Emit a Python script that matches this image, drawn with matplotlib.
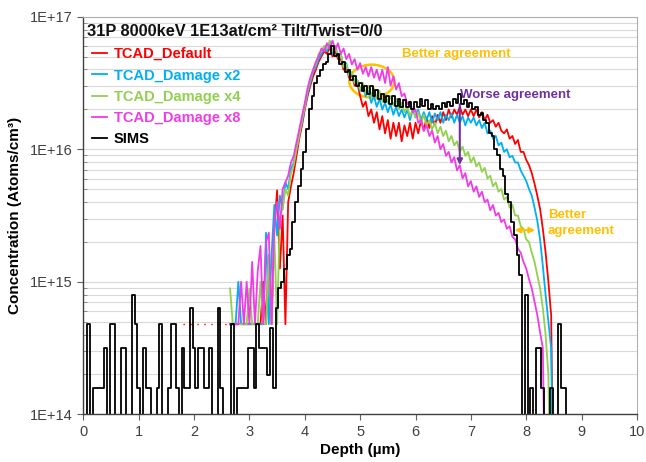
import numpy as np
import matplotlib
matplotlib.use('Agg')
import matplotlib.pyplot as plt
from matplotlib.patches import Ellipse
from matplotlib.ticker import FixedLocator, FuncFormatter, LogLocator, NullFormatter

plt.rcParams['font.family'] = ['Liberation Sans', 'DejaVu Sans']

# ---- data (log10 of concentration, atoms/cm3) ----
F = 14.68          # TCAD floor level
Z = 13.0           # zero counts (below axis)
L1, L2, L3, L4, L5 = 14.2, 14.5, 14.68, 14.8, 14.9   # SIMS count levels

depth_tcad = np.round(2.65 + 0.05 * np.arange(118), 2)   # 2.65 ... 8.50 um

log_default = [
    F, F, F, F, F, F, F, F, F, F,
    F, F, 15.0, F, 15.2, F, 15.4, 15.69, 15.1, 15.5,
    F, 15.6, 15.72, 15.82, 15.95, 16.08, 16.18, 16.3, 16.4, 16.48,
    16.55, 16.6, 16.66, 16.7, 16.74, 16.72, 16.77, 16.7, 16.74, 16.68,
    16.68, 16.6, 16.62, 16.54, 16.56, 16.48, 16.5, 16.4, 16.32, 16.36,
    16.25, 16.3, 16.2, 16.28, 16.15, 16.25, 16.12, 16.22, 16.08, 16.2,
    16.1, 16.2, 16.06, 16.18, 16.1, 16.2, 16.08, 16.2, 16.12, 16.22,
    16.14, 16.24, 16.16, 16.25, 16.18, 16.26, 16.2, 16.28, 16.22, 16.3,
    16.24, 16.3, 16.26, 16.32, 16.26, 16.3, 16.25, 16.3, 16.25, 16.3,
    16.24, 16.28, 16.22, 16.26, 16.2, 16.22, 16.17, 16.2, 16.14, 16.12,
    16.15, 16.08, 16.1, 16.04, 16.07, 15.98, 15.98, 15.92, 15.88, 15.82,
    15.74, 15.65, 15.55, 15.4, 15.22, 15.0, 14.75, Z,
]
log_damage_x2 = [
    F, F, F, 15.0, F, F, F, F, F, F,
    F, F, F, 15.37, F, 15.2, 15.58, 15.35, 15.65, 15.55,
    15.75, 15.7, 15.85, 15.9, 16.0, 16.12, 16.2, 16.32, 16.42, 16.5,
    16.58, 16.62, 16.68, 16.72, 16.76, 16.74, 16.8, 16.72, 16.78, 16.7,
    16.72, 16.62, 16.65, 16.56, 16.58, 16.5, 16.52, 16.44, 16.47, 16.4,
    16.44, 16.35, 16.4, 16.32, 16.38, 16.3, 16.35, 16.28, 16.34, 16.26,
    16.32, 16.25, 16.3, 16.24, 16.3, 16.22, 16.3, 16.24, 16.3, 16.22,
    16.28, 16.22, 16.28, 16.2, 16.27, 16.22, 16.28, 16.2, 16.26, 16.22,
    16.27, 16.2, 16.26, 16.2, 16.25, 16.18, 16.24, 16.2, 16.24, 16.18,
    16.22, 16.16, 16.2, 16.12, 16.14, 16.08, 16.1, 16.03, 16.05, 15.98,
    16.0, 15.94, 15.95, 15.9, 15.9, 15.84, 15.8, 15.76, 15.7, 15.65,
    15.56, 15.46, 15.32, 15.12, 14.9, 14.7, 14.5, Z,
]
log_damage_x4 = [
    14.95, F, F, F, F, F, F, 14.95, F, F,
    F, 15.0, F, F, 15.2, F, 15.35, F, 15.5, 15.55,
    15.7, 15.65, 15.82, 15.88, 16.0, 16.1, 16.22, 16.32, 16.44, 16.52,
    16.6, 16.64, 16.72, 16.74, 16.78, 16.76, 16.82, 16.74, 16.78, 16.7,
    16.72, 16.62, 16.64, 16.56, 16.58, 16.5, 16.52, 16.45, 16.5, 16.42,
    16.48, 16.4, 16.46, 16.38, 16.44, 16.36, 16.42, 16.35, 16.4, 16.33,
    16.38, 16.3, 16.35, 16.28, 16.32, 16.25, 16.3, 16.24, 16.28, 16.2,
    16.26, 16.18, 16.22, 16.15, 16.2, 16.12, 16.17, 16.1, 16.14, 16.06,
    16.1, 16.03, 16.06, 15.98, 16.02, 15.95, 15.98, 15.9, 15.94, 15.87,
    15.9, 15.83, 15.86, 15.78, 15.8, 15.72, 15.75, 15.68, 15.7, 15.62,
    15.64, 15.56, 15.58, 15.5, 15.5, 15.42, 15.4, 15.32, 15.3, 15.22,
    15.15, 15.05, 14.95, 14.8, 14.6, 14.3, Z, Z,
]
log_damage_x8 = [
    F, F, F, F, 15.0, F, 15.0, F, 15.15, F,
    15.08, 15.27, F, 15.3, 15.37, F, 15.45, 15.6, 15.4, 15.7,
    15.75, 15.8, 15.9, 15.95, 16.05, 16.15, 16.25, 16.35, 16.46, 16.54,
    16.6, 16.66, 16.7, 16.76, 16.74, 16.8, 16.76, 16.82, 16.75, 16.8,
    16.72, 16.76, 16.68, 16.72, 16.64, 16.68, 16.6, 16.65, 16.57, 16.62,
    16.55, 16.62, 16.54, 16.6, 16.52, 16.6, 16.5, 16.62, 16.48, 16.55,
    16.45, 16.5, 16.4, 16.42, 16.34, 16.36, 16.28, 16.3, 16.2, 16.22,
    16.14, 16.18, 16.1, 16.14, 16.05, 16.1, 16.0, 16.04, 15.95, 15.98,
    15.9, 15.94, 15.84, 15.88, 15.78, 15.82, 15.72, 15.76, 15.68, 15.72,
    15.64, 15.68, 15.6, 15.62, 15.54, 15.58, 15.5, 15.52, 15.45, 15.47,
    15.4, 15.42, 15.34, 15.32, 15.25, 15.22, 15.15, 15.1, 15.02, 14.95,
    14.85, 14.75, 14.62, 14.5, Z, Z, Z, Z,
]

red_floor_depth = [1.80, 2.65]
red_floor_log = [F, F]

depth_sims = np.round(0.05 * np.arange(176), 2)   # 0.00 ... 8.75 um
log_sims = [
    Z, Z, L3, Z, L1, L1, L1, L1, L2, Z,
    L3, L3, Z, Z, L2, L2, Z, Z, L5, L3,
    L1, Z, L2, L1, L1, Z, Z, L1, L3, Z,
    Z, L1, L3, L3, L1, Z, L2, L1, L1, L4,
    L2, L1, L2, L2, L1, L1, L2, Z, Z, L4,
    L1, Z, Z, Z, L3, Z, L1, L1, L1, L1,
    L2, L2, L1, L3, L2, L2, 14.5, 14.3, 14.65, 14.2,
    14.8, 14.95, 15.0, 15.1, 15.2, 15.25, 15.45, 15.6, 15.72, 15.85,
    15.98, 16.15, 16.3, 16.4, 16.5, 16.55, 16.6, 16.64, 16.66, 16.72,
    16.78, 16.7, 16.72, 16.64, 16.66, 16.58, 16.6, 16.52, 16.55, 16.48,
    16.5, 16.44, 16.48, 16.42, 16.48, 16.4, 16.45, 16.38, 16.42, 16.36,
    16.4, 16.34, 16.4, 16.33, 16.38, 16.32, 16.37, 16.32, 16.36, 16.3,
    16.36, 16.32, 16.38, 16.33, 16.37, 16.3, 16.34, 16.3, 16.33, 16.3,
    16.35, 16.32, 16.36, 16.33, 16.38, 16.35, 16.42, 16.34, 16.37, 16.32,
    16.35, 16.3, 16.32, 16.26, 16.27, 16.22, 16.2, 16.12, 16.1, 16.0,
    15.96, 15.85, 15.8, 15.66, 15.6, 15.45, 15.35, 15.2, 15.05, Z,
    14.9, Z, L1, Z, L2, L2, L1, Z, Z, L1,
    Z, Z, L3, L1, L1, Z,
]

series_names = ['TCAD_Default', 'TCAD_Damage x2', 'TCAD_Damage x4', 'TCAD_Damage x8', 'SIMS']
series_colors = ['#FF0000', '#00B0F0', '#92D050', '#F03CE6', '#000000']

x_ticks = list(range(0, 11))
y_tick_exponents = [14, 15, 16, 17]

# ---- figure ----
fig = plt.figure(figsize=(6.46, 4.62), dpi=100)
ax = fig.add_axes([0.129, 0.1032, 0.857, 0.8606])

tcad_sets = [log_default, log_damage_x2, log_damage_x4, log_damage_x8]
for name, col, vals in zip(series_names[:4], series_colors[:4], tcad_sets):
    ax.plot(depth_tcad, 10 ** np.array(vals), color=col, lw=1.3, label=name)
ax.plot(red_floor_depth, 10 ** np.array(red_floor_log), color='#FF0000', lw=1.0,
        linestyle=(0, (1, 4)))
ax.plot(depth_sims, 10 ** np.array(log_sims), color=series_colors[4], lw=1.3,
        drawstyle='steps-mid', label=series_names[4])

ax.set_yscale('log')
ax.set_xlim(0, 10)
ax.set_ylim(1e14, 1e17)

ax.xaxis.set_major_locator(FixedLocator(x_ticks))
ax.yaxis.set_major_locator(FixedLocator([10.0 ** e for e in y_tick_exponents]))
ax.yaxis.set_major_formatter(FuncFormatter(lambda v, p: '1E+%d' % round(np.log10(v))))
ax.yaxis.set_minor_locator(LogLocator(base=10, subs=np.arange(2, 10), numticks=20))
ax.yaxis.set_minor_formatter(NullFormatter())

ax.tick_params(axis='both', which='major', direction='out', length=4, width=0.8,
               labelsize=10.5, labelcolor='#404040', color='#606060')
ax.tick_params(axis='y', which='minor', direction='in', length=3, width=0.6, color='#808080')

ax.yaxis.grid(True, which='both', color='#d9d9d9', lw=0.8)
ax.set_axisbelow(True)

for s in ['left', 'bottom']:
    ax.spines[s].set_color('#404040')
    ax.spines[s].set_linewidth(1.0)
for s in ['top', 'right']:
    ax.spines[s].set_color('#b0b0b0')
    ax.spines[s].set_linewidth(0.8)

ax.set_xlabel('Depth (\u00b5m)', fontsize=11, fontweight='bold', labelpad=3)
ax.set_ylabel('Concentration (Atoms/cm\u00b3)', fontsize=11, fontweight='bold', labelpad=6)

ax.text(0.007, 0.962, '31P 8000keV 1E13at/cm\u00b2 Tilt/Twist=0/0', transform=ax.transAxes,
        fontsize=11.8, fontweight='bold', ha='left', va='center', color='#111111')

leg = ax.legend(loc='upper left', bbox_to_anchor=(0.005, 0.938), frameon=False,
                handlelength=1.0, handletextpad=0.5, labelspacing=0.5,
                borderaxespad=0.0, labelcolor='linecolor',
                prop={'weight': 'bold', 'size': 10.5})

# ---- annotations ----
gold = '#FFC000'
purple = '#7030A0'
ax.add_patch(Ellipse((0.521, 0.838), 0.0813, 0.083, transform=ax.transAxes,
                     fill=False, edgecolor=gold, lw=1.8))
ax.text(5.75, 10 ** 16.72, 'Better agreement', color=gold, fontsize=9.5,
        fontweight='bold', ha='left', va='center')
ax.text(6.8, 10 ** 16.41, 'Worse agreement', color=purple, fontsize=9.5,
        fontweight='bold', ha='left', va='center')
ax.annotate('', xy=(6.8, 10 ** 15.86), xytext=(6.8, 10 ** 16.36),
            arrowprops=dict(arrowstyle='-|>', color=purple, lw=1.5, mutation_scale=8))
ax.annotate('', xy=(7.74, 10 ** 15.39), xytext=(8.21, 10 ** 15.39),
            arrowprops=dict(arrowstyle='<|-|>', color=gold, lw=1.5, mutation_scale=8))
ax.text(8.39, 10 ** 15.44, 'Better\nagreement', color=gold, fontsize=9.5,
        fontweight='bold', ha='left', va='center', linespacing=1.45)

fig.savefig('out.png', dpi=100)
